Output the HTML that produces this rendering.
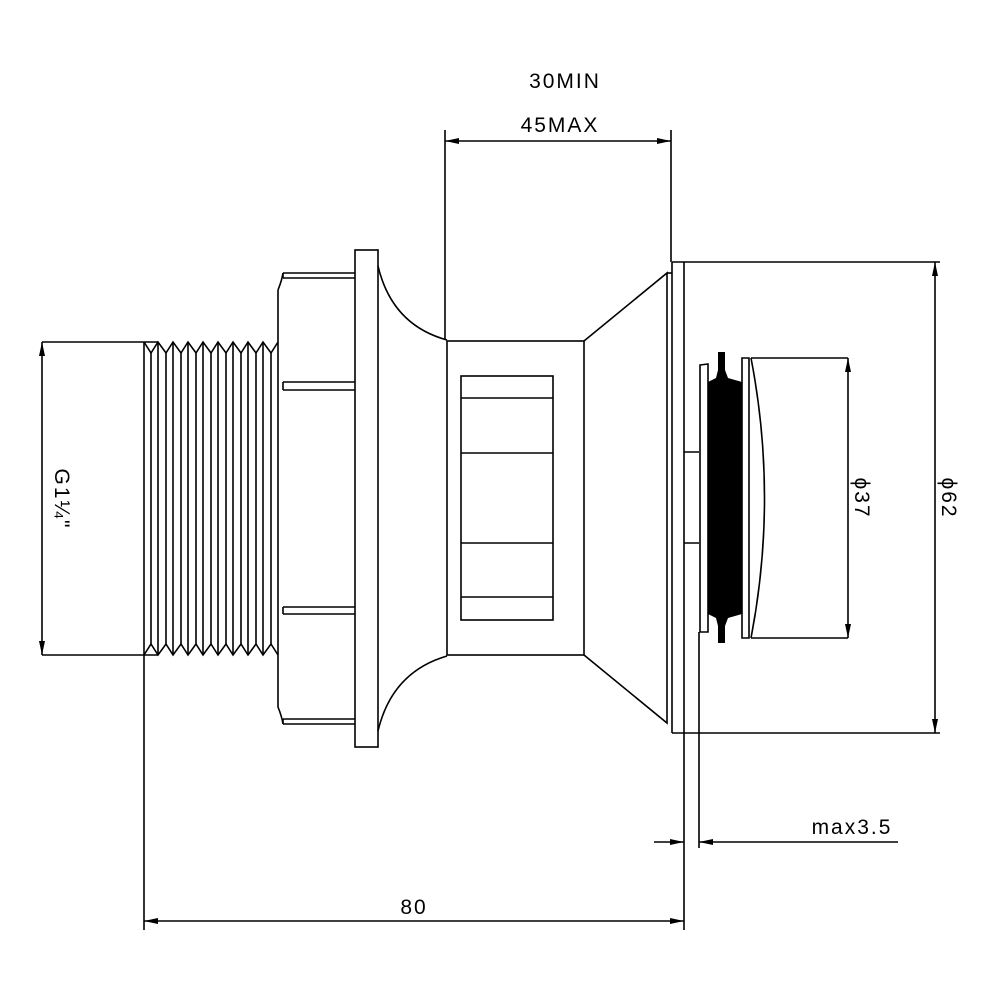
<!DOCTYPE html>
<html><head><style>html,body{margin:0;padding:0;background:#fff}svg{display:block}text{font-family:"Liberation Sans",sans-serif;font-size:21px;letter-spacing:2px;fill:#000}</style></head>
<body>
<svg width="1001" height="1001" viewBox="0 0 1001 1001" xmlns="http://www.w3.org/2000/svg">
<defs>
<marker id="a" viewBox="0 0 14 6" refX="14" refY="3" markerWidth="14" markerHeight="6" orient="auto-start-reverse" markerUnits="userSpaceOnUse"><path d="M0,0 L14,3 L0,6 Z" fill="#000"/></marker>
</defs>
<g fill="none" stroke="#000" stroke-width="1.6">
<path d="M144,342 V655"/>
<path d="M144,342 H158 M144,655 H158"/>
<path d="M144,342 L151,353 L158,342 L166,353 L173,342 L181,353 L188,342 L196,353 L203,342 L211,353 L218,342 L226,353 L233,342 L241,353 L248,342 L256,353 L263,342 L271,353 L278,342"/>
<path d="M144,655 L151,644 L158,655 L166,644 L173,655 L181,644 L188,655 L196,644 L203,655 L211,644 L218,655 L226,644 L233,655 L241,644 L248,655 L256,644 L263,655 L271,644 L278,655"/>
<path d="M151,353 V644 M158,342 V655 M166,353 V644 M173,342 V655 M181,353 V644 M188,342 V655 M196,353 V644 M203,342 V655 M211,353 V644 M218,342 V655 M226,353 V644 M233,342 V655 M241,353 V644 M248,342 V655 M256,353 V644 M263,342 V655 M271,353 V644"/>
<path d="M283,273 H355 M283,278 H355 M278,290 Q282,280 283,273 M278,290 V707 Q282,717 283,724 M283,719 H355 M283,724 H355"/>
<path d="M283,382 H355 M283,390 H355 M283,607 H355 M283,614 H355 M283,382 V390 M283,607 V614 M283,273 V278 M283,719 V724"/>
<rect x="355" y="250" width="23" height="497"/>
<path d="M378,266 Q392,325 447,340 M378,731 Q392,672 447,656"/>
<rect x="447" y="341" width="137" height="314"/>
<rect x="461" y="376" width="92" height="244"/>
<path d="M461,398 H553 M461,453 H553 M461,543 H553 M461,597 H553"/>
<path d="M584,341 L667,273 V723 L584,655"/>
<path d="M667,273 H672"/>
<path d="M672,262 H940 M672,733 H940 M672,262 V733 M684,262 V930"/>
<path d="M684,452 H699 M684,543 H699 M699,632 V848"/>
<path d="M700,365 L708,364 V632 L700,632 Z"/>
<path d="M742,358 L749,358 V638 L742,638 Z"/>
<path d="M751,358 H848 M751,638 H848 M751,358 Q778,498 751,638"/>
<path d="M445,130 V340 M671,130 V262"/>
<path d="M445,141 H671" marker-start="url(#a)" marker-end="url(#a)"/>
<path d="M42,342 H144 M42,655 H144"/>
<path d="M42,342 V655" marker-start="url(#a)" marker-end="url(#a)"/>
<path d="M935,262 V733" marker-start="url(#a)" marker-end="url(#a)"/>
<path d="M848,358 V638" marker-start="url(#a)" marker-end="url(#a)"/>
<path d="M144,655 V930"/>
<path d="M144,921 H684" marker-start="url(#a)" marker-end="url(#a)"/>
<path d="M654,842 H684" marker-end="url(#a)"/>
<path d="M898,842 H699" marker-end="url(#a)"/>
</g>
<path d="M708,382 L716,378 L718,370 V352 H725 V370 L728,378 L742,382 V614 L728,618 L725,626 V643 H718 V626 L716,618 L708,614 Z" fill="#000"/>
<text x="565" y="88" text-anchor="middle">30MIN</text>
<text x="560" y="132" text-anchor="middle">45MAX</text>
<text x="414" y="914" text-anchor="middle">80</text>
<text x="852" y="834" text-anchor="middle">max3.5</text>
<text transform="translate(55,499) rotate(90)" text-anchor="middle">G1¼"</text>
<text transform="translate(855,498) rotate(90)" text-anchor="middle">ϕ37</text>
<text transform="translate(942,498) rotate(90)" text-anchor="middle">ϕ62</text>
</svg>
</body></html>
